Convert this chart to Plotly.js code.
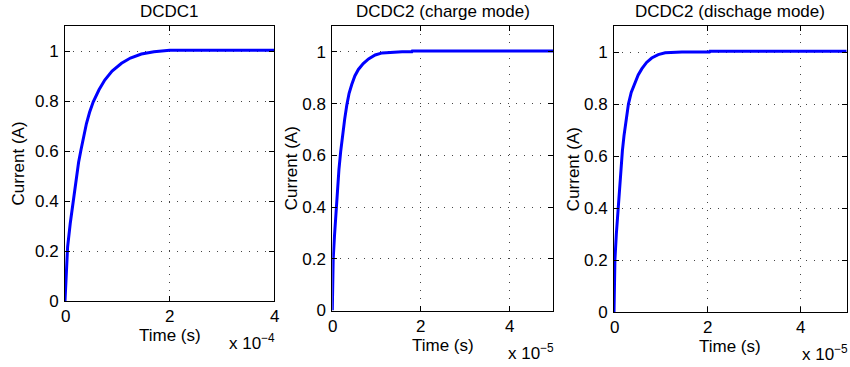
<!DOCTYPE html>
<html>
<head>
<meta charset="utf-8">
<script src="https://cdn.plot.ly/plotly-3.0.1.min.js"></script>
<style>html,body{margin:0;padding:0;background:#fff;}#chart{width:850px;height:367px;}</style>
</head>
<body>
<div id="chart"></div>
<script>
// Titles
const titles = ["DCDC1", "DCDC2 (charge mode)", "DCDC2 (dischage mode)"];
const xLabel = "Time (s)";
const yLabel = "Current (A)";
const xExponents = ["x 10<sup>−4</sup>", "x 10<sup>−5</sup>", "x 10<sup>−5</sup>"];

// DCDC1 step response
const t1 = [0, 0.05e-4, 0.1e-4, 0.14e-4, 0.18e-4, 0.22e-4, 0.26e-4, 0.305e-4, 0.36e-4, 0.41e-4, 0.47e-4, 0.54e-4, 0.65e-4, 0.76e-4, 0.9e-4, 1.08e-4, 1.25e-4, 1.46e-4, 1.7e-4, 1.97e-4, 2.0e-4, 4e-4];
const i1 = [0, 0.217, 0.31, 0.377, 0.44, 0.497, 0.555, 0.604, 0.66, 0.71, 0.755, 0.797, 0.845, 0.884, 0.92, 0.951, 0.972, 0.988, 0.997, 1.0, 1.003, 1.003];

// DCDC2 charge mode
const t2 = [0, 0.02e-5, 0.05e-5, 0.084e-5, 0.11e-5, 0.15e-5, 0.19e-5, 0.23e-5, 0.28e-5, 0.33e-5, 0.38e-5, 0.44e-5, 0.51e-5, 0.59e-5, 0.7e-5, 0.82e-5, 0.97e-5, 1.13e-5, 1.35e-5, 1.58e-5, 1.8e-5, 1.81e-5, 5e-5];
const i2 = [0, 0.197, 0.29, 0.378, 0.46, 0.545, 0.615, 0.674, 0.74, 0.796, 0.84, 0.874, 0.907, 0.932, 0.955, 0.973, 0.988, 0.996, 0.999, 1.0, 1.0, 1.003, 1.003];

// DCDC2 discharge mode
const t3 = [0, 0.02e-5, 0.05e-5, 0.08e-5, 0.11e-5, 0.14e-5, 0.18e-5, 0.215e-5, 0.26e-5, 0.31e-5, 0.37e-5, 0.45e-5, 0.52e-5, 0.6e-5, 0.7e-5, 0.81e-5, 0.95e-5, 1.1e-5, 1.25e-5, 1.46e-5, 2.05e-5, 2.06e-5, 5e-5];
const i3 = [0, 0.203, 0.30, 0.383, 0.47, 0.55, 0.62, 0.679, 0.745, 0.80, 0.845, 0.884, 0.912, 0.936, 0.96, 0.977, 0.99, 0.997, 0.999, 1.0, 1.0, 1.003, 1.003];

// Ticks
const yTickVals = [0, 0.2, 0.4, 0.6, 0.8, 1];
const yTickText = ["0", "0.2", "0.4", "0.6", "0.8", "1"];
const xTickVals1 = [0, 2e-4, 4e-4];
const xTickVals2 = [0, 2e-5, 4e-5];
const xTickText = ["0", "2", "4"];
const xRanges = [[0, 4e-4], [0, 5e-5], [0, 5e-5]];
const yRange = [0, 1.1];

const FONT = "Liberation Sans, Arial, sans-serif";
const FS = 17;

const W = 850, H = 367;
const boxes = [
  {l: 65, r: 274.3, t: 26, b: 301},
  {l: 332.3, r: 553.3, t: 26, b: 310.5},
  {l: 614, r: 846.7, t: 26, b: 312.3}
];

const series = [[t1, i1], [t2, i2], [t3, i3]];
const data = series.map((s, k) => ({
  x: s[0], y: s[1], type: "scatter", mode: "lines",
  line: {color: "#0000ff", width: 3},
  xaxis: k === 0 ? "x" : "x" + (k + 1),
  yaxis: k === 0 ? "y" : "y" + (k + 1),
  showlegend: false, hoverinfo: "skip"
}));

const layout = {
  width: W, height: H,
  margin: {l: 0, r: 0, t: 0, b: 0},
  paper_bgcolor: "#fff", plot_bgcolor: "#fff",
  font: {family: FONT, size: FS, color: "#000"},
  showlegend: false,
  annotations: []
};

const xTicks = [xTickVals1, xTickVals2, xTickVals2];
const ylabX = [18, 291, 573];
const tickLabY = [316.5, 326.5, 327.5];
const timeY = [335, 345, 346];
const expPos = [[252, 342], [531, 352], [825, 353]];

boxes.forEach((b, k) => {
  const sx = k === 0 ? "" : String(k + 1);
  const common = {
    showline: true, linecolor: "#000", linewidth: 1, mirror: "ticks",
    ticks: "inside", ticklen: 5, tickcolor: "#000", tickwidth: 1,
    showgrid: true, gridcolor: "#444", gridwidth: 1, griddash: "1px,7px",
    zeroline: false, fixedrange: true,
    tickfont: {family: FONT, size: FS, color: "#000"}
  };
  layout["xaxis" + sx] = Object.assign({}, common, {
    domain: [b.l / W, b.r / W], range: xRanges[k],
    anchor: "y" + sx,
    tickmode: "array", tickvals: xTicks[k], ticktext: xTickText,
    showticklabels: false
  });
  layout["yaxis" + sx] = Object.assign({}, common, {
    domain: [1 - b.b / H, 1 - b.t / H], range: yRange,
    anchor: "x" + sx,
    tickmode: "array", tickvals: yTickVals, ticktext: yTickText,
    ticklabelstandoff: 2
  });
  layout.annotations.push({
    text: titles[k], xref: "paper", yref: "paper",
    x: (b.l + b.r) / 2 / W, y: 1 - 11 / H, xanchor: "center", yanchor: "middle",
    showarrow: false, font: {family: FONT, size: FS, color: "#000"}
  });
  layout.annotations.push({
    text: yLabel, xref: "paper", yref: "paper", textangle: -90,
    x: ylabX[k] / W, y: 1 - ((b.t + b.b) / 2) / H, xanchor: "center", yanchor: "middle",
    showarrow: false, font: {family: FONT, size: FS, color: "#000"}
  });
  xTicks[k].forEach((v, j) => {
    layout.annotations.push({
      text: xTickText[j], xref: "x" + sx, yref: "paper",
      x: v, y: 1 - tickLabY[k] / H, xanchor: "center", yanchor: "middle",
      showarrow: false, font: {family: FONT, size: FS, color: "#000"}
    });
  });
  layout.annotations.push({
    text: xLabel, xref: "paper", yref: "paper",
    x: (b.l + b.r) / 2 / W, y: 1 - timeY[k] / H, xanchor: "center", yanchor: "middle",
    showarrow: false, font: {family: FONT, size: FS, color: "#000"}
  });
  layout.annotations.push({
    text: xExponents[k], xref: "paper", yref: "paper",
    x: expPos[k][0] / W, y: 1 - expPos[k][1] / H, xanchor: "center", yanchor: "middle",
    showarrow: false, font: {family: FONT, size: FS, color: "#000"}
  });
});

Plotly.newPlot("chart", data, layout, {displayModeBar: false, staticPlot: true});
</script>
</body>
</html>
